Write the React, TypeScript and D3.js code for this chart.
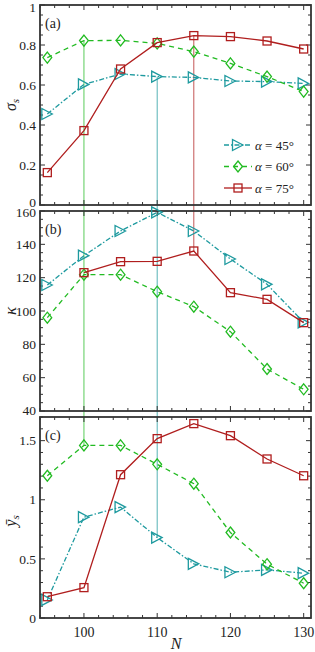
import React from "react";
import * as d3 from "d3";

// Three stacked panels (σs, κ, ȳs vs N) for three α values.
const N = [95, 100, 105, 110, 115, 120, 125, 130];

const sigma45 = [0.455, 0.603, 0.655, 0.642, 0.638, 0.62, 0.617, 0.608];
const sigma60 = [0.737, 0.822, 0.823, 0.808, 0.767, 0.708, 0.642, 0.567];
const sigma75 = [0.162, 0.372, 0.68, 0.812, 0.847, 0.842, 0.82, 0.78];

const kappa45 = [115.6, 133.2, 148, 159.2, 148, 131.2, 116, 93.2];
const kappa60 = [96, 121.8, 121.8, 111.6, 102.6, 87.6, 65.2, 53];
const kappa75 = [null, 123, 129.6, 129.8, 136, 111, 107, 93];

const ys45 = [0.153, 0.853, 0.938, 0.68, 0.458, 0.387, 0.407, 0.379];
const ys60 = [1.203, 1.46, 1.46, 1.3, 1.136, 0.723, 0.455, 0.294];
const ys75 = [0.18, 0.257, 1.212, 1.517, 1.644, 1.542, 1.345, 1.203];

const xTicks = [100, 110, 120, 130];
const sigmaTicks = [0, 0.2, 0.4, 0.6, 0.8, 1];
const kappaTicks = [40, 60, 80, 100, 120, 140, 160];
const ysTicks = [0, 0.5, 1, 1.5];

const legendLabels = ["45°", "60°", "75°"];

const TEAL = "#1e9a9f";
const GREEN = "#22bb22";
const RED = "#b01e1e";
const FONT = "'Liberation Serif', 'DejaVu Serif', serif";

const W = 315;
const H = 652;
const left = 40;
const right = 311;

const x = d3.scaleLinear().domain([94, 131]).range([left, right]);

const panels = [
  { key: "a", top: 5, bottom: 205, domain: [0, 1], ticks: sigmaTicks, minor: 0.05, nudgeTop: 2, nudgeBottom: -3, series: [sigma45, sigma60, sigma75], label: "(a)" },
  { key: "b", top: 211, bottom: 411, domain: [40, 160], ticks: kappaTicks, minor: 5, nudgeTop: 1, nudgeBottom: -1, series: [kappa45, kappa60, kappa75], label: "(b)" },
  { key: "c", top: 417, bottom: 618, domain: [0, 1.7], ticks: ysTicks, minor: 0.1, nudgeTop: 0, nudgeBottom: 0, series: [ys45, ys60, ys75], label: "(c)" },
];

const styles = [
  { color: TEAL, dash: "5,2,1.5,2", marker: "tri" },
  { color: GREEN, dash: "5,4", marker: "dia" },
  { color: RED, dash: null, marker: "sq" },
];

function Marker({ type, cx, cy, color }: { type: string; cx: number; cy: number; color: string }) {
  if (type === "tri") {
    const s = 5.5;
    return <path d={`M${cx - s},${cy - s} L${cx + s * 0.9},${cy} L${cx - s},${cy + s} Z`} fill="none" stroke={color} strokeWidth={1.3} />;
  }
  if (type === "dia") {
    const s = 5.5;
    return <path d={`M${cx},${cy - s} L${cx + s * 0.8},${cy} L${cx},${cy + s} L${cx - s * 0.8},${cy} Z`} fill="none" stroke={color} strokeWidth={1.3} />;
  }
  return <rect x={cx - 4} y={cy - 4} width={8} height={8} fill="none" stroke={color} strokeWidth={1.3} />;
}

function range(a: number, b: number, step: number) {
  const out: number[] = [];
  for (let v = a; v <= b + 1e-9; v += step) out.push(+v.toFixed(6));
  return out;
}

export default function App() {
  const yScales = panels.map((p) => d3.scaleLinear().domain(p.domain).range([p.bottom, p.top]));

  // vertical guide lines through the optimum of each series
  const guides = [
    { n: 100, color: GREEN, y1: yScales[0](sigma60[1]), y2: yScales[2](ys60[1]) },
    { n: 110, color: TEAL, y1: yScales[0](sigma45[3]), y2: yScales[2](ys45[3]) },
    { n: 115, color: RED, y1: yScales[0](sigma75[4]), y2: yScales[1](kappa75[4] as number) },
  ];

  const xMinor = range(94, 130, 2);

  return (
    <svg width={W} height={H} style={{ position: "absolute", left: 0, top: 0, background: "#fff" }} fontFamily={FONT}>
      {guides.map((g) => (
        <line key={g.n} x1={x(g.n)} x2={x(g.n)} y1={g.y1} y2={g.y2} stroke={g.color} strokeWidth={1} opacity={0.75} />
      ))}
      {panels.map((p, pi) => {
        const y = yScales[pi];
        const yMinor = range(p.domain[0], p.domain[1], p.minor);
        return (
          <g key={p.key}>
            {xMinor.map((t) => {
              const major = xTicks.includes(t);
              const len = major ? 5 : 3;
              return (
                <g key={"x" + t}>
                  <line x1={x(t)} x2={x(t)} y1={p.bottom} y2={p.bottom - len} stroke="#333" strokeWidth={1} />
                  <line x1={x(t)} x2={x(t)} y1={p.top} y2={p.top + len} stroke="#333" strokeWidth={1} />
                </g>
              );
            })}
            {yMinor.map((t) => {
              const major = p.ticks.some((m) => Math.abs(m - t) < 1e-6);
              const len = major ? 5 : 3;
              return (
                <g key={"y" + t}>
                  <line x1={left} x2={left + len} y1={y(t)} y2={y(t)} stroke="#333" strokeWidth={1} />
                  <line x1={right} x2={right - len} y1={y(t)} y2={y(t)} stroke="#333" strokeWidth={1} />
                </g>
              );
            })}
            {p.ticks.map((t, i) => {
              const nudge = i === 0 ? p.nudgeBottom : i === p.ticks.length - 1 ? p.nudgeTop : 0;
              return (
                <text key={"l" + t} x={36} y={y(t) + nudge} dy="0.35em" textAnchor="end" fontSize={13.5} fill="#222">
                  {String(t)}
                </text>
              );
            })}
            <rect x={left} y={p.top} width={right - left} height={p.bottom - p.top} fill="none" stroke="#333" strokeWidth={1.8} />
            <text x={45} y={p.top + 23} fontSize={14} fill="#222">
              {p.label}
            </text>
            {p.series.map((vals, si) => {
              const st = styles[si];
              const pts = N.map((n, i) => [n, vals[i]] as [number, number | null]).filter((d) => d[1] != null) as [number, number][];
              const line = d3
                .line<[number, number]>()
                .x((d) => x(d[0]))
                .y((d) => y(d[1]));
              return (
                <g key={si}>
                  <path d={line(pts) || ""} fill="none" stroke={st.color} strokeWidth={1.3} strokeDasharray={st.dash || undefined} />
                  {pts.map((d) => (
                    <Marker key={d[0]} type={st.marker} cx={x(d[0])} cy={y(d[1])} color={st.color} />
                  ))}
                </g>
              );
            })}
          </g>
        );
      })}
      {xTicks.map((t) => (
        <text key={t} x={x(t)} y={637} textAnchor="middle" fontSize={14} fill="#222">
          {t}
        </text>
      ))}
      <text x={176} y={649} textAnchor="middle" fontSize={16} fontStyle="italic" fill="#222">
        N
      </text>
      <text transform="translate(16,105) rotate(-90)" textAnchor="middle" fontSize={16} fill="#222">
        <tspan fontStyle="italic">σ</tspan>
        <tspan fontStyle="italic" fontSize={11} dy={3}>s</tspan>
      </text>
      <text transform="translate(16,311) rotate(-90)" textAnchor="middle" fontSize={17} fontStyle="italic" fill="#222">
        κ
      </text>
      <text transform="translate(16,521) rotate(-90)" textAnchor="middle" fontSize={16} fill="#222">
        <tspan fontStyle="italic">ȳ</tspan>
        <tspan fontStyle="italic" fontSize={11} dy={3}>s</tspan>
      </text>
      {styles.map((st, i) => {
        const ly = 145 + i * 21.5;
        return (
          <g key={i}>
            <line x1={224} x2={252} y1={ly} y2={ly} stroke={st.color} strokeWidth={1.3} strokeDasharray={st.dash || undefined} />
            <Marker type={st.marker} cx={238} cy={ly} color={st.color} />
            <text x={255} y={ly} dy="0.35em" fontSize={13} fill="#222">
              <tspan fontStyle="italic">α</tspan> = {legendLabels[i]}
            </text>
          </g>
        );
      })}
    </svg>
  );
}
